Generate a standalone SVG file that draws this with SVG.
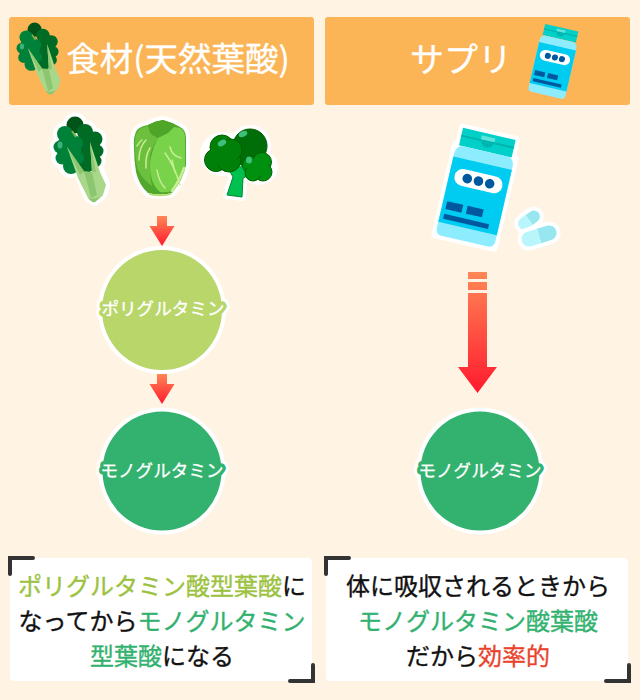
<svg xmlns="http://www.w3.org/2000/svg" xmlns:xlink="http://www.w3.org/1999/xlink" width="640" height="700" viewBox="0 0 640 700">
<style>
text{font-family:"Noto Sans CJK JP","Noto Sans CJK SC",sans-serif;text-anchor:middle}
.hd{fill:#FBB556}
.ht{fill:#fff;stroke:#fff;stroke-width:.3;stroke-linejoin:round}
.box{fill:#fff}
.br{fill:none;stroke:#333;stroke-width:4;stroke-linecap:round;stroke-linejoin:miter}
.lbl{font-size:17.6px;fill:#fff;stroke:#fff;stroke-width:.3}
.hw{fill:none;stroke:#fff;stroke-width:13;stroke-linejoin:round}
.hl{fill:none;stroke:#B8D66A;stroke-width:7;stroke-linejoin:round}
.hg{fill:none;stroke:#33B16F;stroke-width:7;stroke-linejoin:round}
.b{font-size:24px;fill:#111;stroke:#111;stroke-width:.35}
.lg{fill:#9CC23F;stroke:#9CC23F}.g{fill:#33B16F;stroke:#33B16F}.r{fill:#E8432C;stroke:#E8432C}
.sil{fill:#fff;stroke:#fff;stroke-width:8;stroke-linejoin:round}
.arrow{fill:url(#ag)}
</style>
<defs>
<linearGradient id="ag" x1="0" y1="0" x2="0" y2="1"><stop offset="0" stop-color="#FF8756"/><stop offset="1" stop-color="#FF1A2E"/></linearGradient>
<linearGradient id="ag2" gradientUnits="userSpaceOnUse" x1="0" y1="272" x2="0" y2="393"><stop offset="0" stop-color="#FF8756"/><stop offset="1" stop-color="#FF1A2E"/></linearGradient>
<g id="kshape">
<circle cx="75" cy="125" r="8.500"/><circle cx="65" cy="134" r="8"/><circle cx="60" cy="147" r="6.500"/><circle cx="62" cy="158" r="6.500"/><circle cx="71" cy="166" r="8"/><circle cx="85" cy="132" r="8"/><circle cx="95" cy="139" r="7.500"/><circle cx="97" cy="151" r="6.500"/><circle cx="95" cy="161" r="6.500"/><circle cx="78" cy="150" r="20"/>
<path d="M67 147 90 142 106 185 103 195 95 202 88 198Z"/>
</g>
<g id="kale">
<circle cx="75" cy="125" r="8.500" fill="#00541A"/>
<g fill="#006B24"><circle cx="85" cy="132" r="8"/><circle cx="95" cy="139" r="7.500"/><circle cx="97" cy="151" r="6.500"/><circle cx="95" cy="161" r="6.500"/><ellipse cx="88" cy="150" rx="12" ry="20"/><circle cx="86" cy="165" r="8"/></g>
<g fill="#00813A"><circle cx="65" cy="134" r="8"/><circle cx="60" cy="147" r="6.500"/><circle cx="62" cy="158" r="6.500"/><circle cx="71" cy="166" r="8"/><ellipse cx="69" cy="149" rx="12" ry="17"/><circle cx="76" cy="143" r="7"/><circle cx="78" cy="158" r="6"/></g>
<ellipse cx="60" cy="145" rx="2.500" ry="3.500" fill="#3CB37A"/>
<path d="M72 131 76 137" stroke="#7DB24A" stroke-width="2" fill="none"/>
<path d="M67 147 78 178 88 198Q92 202 95 202L103 195 106 185 100 172 90 142 92 172H84Z" fill="#A9D88A"/>
<path d="M84 171 92 172 97 195 91 198Z" fill="#8CC670"/>
<path d="M84 171 67 147 80 175ZM92 172 90 142 96 172Z" fill="#8CC670"/>
<path d="M88 198Q92 203 95 202L103 195 100 197Q93 200 88 198Z" fill="#8CC670"/>
</g>
<path id="hs" d="M134 148Q133 136 137 130 141 126 148 125 155 121 163 120 172 122 180 127 186 130 186 138L186 165Q183 180 172 193 160 196 148 193 139 185 136 172 134 160 134 148Z"/>
<g id="bottle">
<path d="M-27-55H27V-37H-27Z" fill="#00D0C8"/>
<path d="M-27-48H27V-46H-27Z" fill="#00B5B0"/>
<path d="M-6-46H6A6 5 0 0 1-6-46Z" fill="#00B5B0"/>
<rect x="-7" y="-52" width="14" height="4" fill="#5FE3DA"/>
<path d="M-24-37H24Q30-35 30-28V48Q30 55 24 55H-24Q-30 55-30 48V-28Q-30-35-24-37Z" fill="#8DEDFE"/>
<rect x="-30" y="-25" width="60" height="67" fill="#00CCF2"/>
<rect x="-24.500" y="-15" width="49" height="17" rx="8.500" fill="#fff"/>
<g fill="#00589F"><circle cx="-11.500" cy="-6.500" r="4.800"/><circle cx="0" cy="-6.500" r="4.800"/><circle cx="11.500" cy="-6.500" r="4.800"/>
<rect x="-26" y="20" width="16.500" height="8"/><rect x="-5" y="20" width="16.500" height="8"/><rect x="-26" y="33" width="46" height="5"/></g>
</g>
</defs>
<rect width="640" height="700" fill="#FFF3E4"/>

<g id="connectors">
<path class="arrow" d="M157 216H167V226H174.500L162 246 149.500 226H157Z"/>
<path class="arrow" d="M157 374H167V384H174.500L162 404 149.500 384H157Z"/>
<path fill="url(#ag2)" d="M468 272H487V279H468ZM468 282H487V290H468ZM468 293H487V367H497L477.500 393 458 367H468Z"/>
</g>

<g id="header-left">
<rect class="hd" x="9" y="17" width="305" height="88" rx="3"/>
<use xlink:href="#kale" href="#kale" transform="translate(-28.400 -75.300) scale(.84)"/>
<text class="ht" x="178" y="71" font-size="33.500">食材(天然葉酸)</text>
</g>
<g id="header-right">
<rect class="hd" x="325" y="17" width="305" height="88" rx="3"/>
<text class="ht" x="461" y="72" font-size="34">サプリ</text>
<use xlink:href="#bottle" href="#bottle" transform="translate(554 61.500) rotate(13) scale(.63)"/>
</g>

<g id="icon-komatsuna">
<use xlink:href="#kshape" href="#kshape" class="sil"/>
<use xlink:href="#kale" href="#kale"/>
</g>
<g id="icon-hakusai">
<use xlink:href="#hs" href="#hs" class="sil"/>
<use xlink:href="#hs" href="#hs" fill="#52A82C"/>
<path d="M135 148Q134 136 138 131 141 127 148 126L152 135 158 138Q150 150 150 158 149 172 152 186 143 180 138 170 135 160 135 148Z" fill="#6CC03E"/>
<path d="M148 125Q155 121 163 120 170 122 174 126L168 133 158 138 150 133Z" fill="#4FA528"/>
<path d="M158 138 168 133 174 127 180 128Q185 131 185 138L185 165Q182 178 172 191 165 193 160 192 153 186 151 176 149 165 151 157 153 147 158 138Z" fill="#78D24A"/>
<g fill="none" stroke="#C8EE96" stroke-width="1.500" stroke-linecap="round">
<path d="M139 160Q139 147 146 140M137 146Q139 142 142 140M146 168Q145 156 150 148"/>
<path d="M157 170Q159 182 165 188M165 153Q174 165 180 185M170 147Q172 156 181 158M175 172 172 160" />
<path d="M172 191Q180 180 184 168" stroke-width="2.500"/>
</g>
<path d="M149 194Q160 197 171 194" stroke="#B5E070" stroke-width="1.500" fill="none"/>
</g>
<g id="icon-broccoli">
<g class="sil">
<path d="M228 168 233 177 227 195 242 197 243 178 254 173 250 166Z"/>
<ellipse cx="223" cy="154" rx="19" ry="18"/><ellipse cx="250" cy="146" rx="17" ry="17"/><ellipse cx="258.500" cy="167" rx="15.500" ry="14"/>
</g>
<path d="M228 168 233 177 227 195 242 197 243 178 254 173 250 166Z" fill="#00C04F" stroke="#008A30" stroke-width="1"/>
<ellipse cx="250" cy="146" rx="17" ry="17" fill="#006E08" stroke="#005A00"/>
<ellipse cx="240" cy="152" rx="11" ry="13" fill="#006E08"/>
<path d="M243 150 258 158 246 168 238 164Z" fill="#006E08"/>
<g fill="#008008" stroke="#006000">
<circle cx="222" cy="147" r="12"/><circle cx="216" cy="160" r="11.500"/><circle cx="229" cy="160" r="12"/><circle cx="231" cy="150" r="11"/>
</g>
<ellipse cx="224" cy="154" rx="14" ry="12" fill="#008008"/>
<g fill="#00900F" stroke="#006000">
<circle cx="251" cy="165" r="8.500"/><circle cx="262" cy="162" r="9.500"/><circle cx="263" cy="172" r="9"/><circle cx="253" cy="173" r="8"/>
</g>
<ellipse cx="258" cy="167" rx="11" ry="9.500" fill="#00900F"/>
<ellipse cx="243" cy="134" rx="4.500" ry="2.800" fill="#3FC07A" transform="rotate(-25 243 134)"/>
<ellipse cx="222" cy="143" rx="4.500" ry="2.800" fill="#3FC07A" transform="rotate(-30 222 143)"/>
<ellipse cx="249" cy="160" rx="3" ry="3.500" fill="#3FC07A"/>
</g>
<g id="icon-bottle">
<g transform="translate(477 187.500) rotate(13)">
<path d="M-27-55H27V-37H30V55H-30V-37H-27Z" class="sil"/>
<use xlink:href="#bottle" href="#bottle"/>
</g>
</g>
<g id="icon-capsules">
<g transform="translate(529 220) rotate(-35)">
<rect x="-12" y="-6" width="24" height="12" rx="6" class="sil"/>
<path d="M0-6H6A6 6 0 0 1 6 6H0Z" fill="#97E6F0"/><path d="M0-6H-6A6 6 0 0 0-6 6H0Z" fill="#B9F6FB"/>
</g>
<g transform="translate(539 236) rotate(-17)">
<rect x="-18" y="-7.500" width="36" height="15" rx="7.500" class="sil"/>
<path d="M0-7.500H10.500A7.500 7.500 0 0 1 10.500 7.500H0Z" fill="#97E6F0"/><path d="M0-7.500H-10.500A7.500 7.500 0 0 0-10.500 7.500H0Z" fill="#B9F6FB"/>
</g>
</g>

<g id="node-polyglutamine">
<circle cx="162" cy="310" r="64" fill="#fff"/>
<text class="lbl hw" x="163" y="315">ポリグルタミン</text>
<circle cx="162" cy="310" r="60" fill="#B8D66A"/>
<text class="lbl hl" x="163" y="315">ポリグルタミン</text>
<text class="lbl" x="163" y="315">ポリグルタミン</text>
</g>
<g id="node-monoglutamine-left">
<circle cx="162" cy="471" r="63.500" fill="#fff"/>
<text class="lbl hw" x="162" y="477">モノグルタミン</text>
<circle cx="162" cy="471" r="59.500" fill="#33B16F"/>
<text class="lbl hg" x="162" y="477">モノグルタミン</text>
<text class="lbl" x="162" y="477">モノグルタミン</text>
</g>
<g id="node-monoglutamine-right">
<circle cx="480" cy="471" r="63.500" fill="#fff"/>
<text class="lbl hw" x="480" y="477">モノグルタミン</text>
<circle cx="480" cy="471" r="59.500" fill="#33B16F"/>
<text class="lbl hg" x="480" y="477">モノグルタミン</text>
<text class="lbl" x="480" y="477">モノグルタミン</text>
</g>

<g id="note-left">
<rect class="box" x="10" y="558" width="302" height="123" rx="4"/>
<path class="br" d="M10 574V558H33"/>
<path class="br" d="M290 681H313V665"/>
<text class="b" x="162" y="595"><tspan class="lg">ポリグルタミン酸型葉酸</tspan>に</text>
<text class="b" x="162" y="630">なってから<tspan class="g">モノグルタミン</tspan></text>
<text class="b" x="162" y="665"><tspan class="g">型葉酸</tspan>になる</text>
</g>
<g id="note-right">
<rect class="box" x="326" y="558" width="302" height="123" rx="4"/>
<path class="br" d="M326 574V558H349"/>
<path class="br" d="M606 681H629V665"/>
<text class="b" x="478" y="595">体に吸収されるときから</text>
<text class="b" x="478" y="630"><tspan class="g">モノグルタミン酸葉酸</tspan></text>
<text class="b" x="478" y="665">だから<tspan class="r">効率的</tspan></text>
</g>
</svg>
